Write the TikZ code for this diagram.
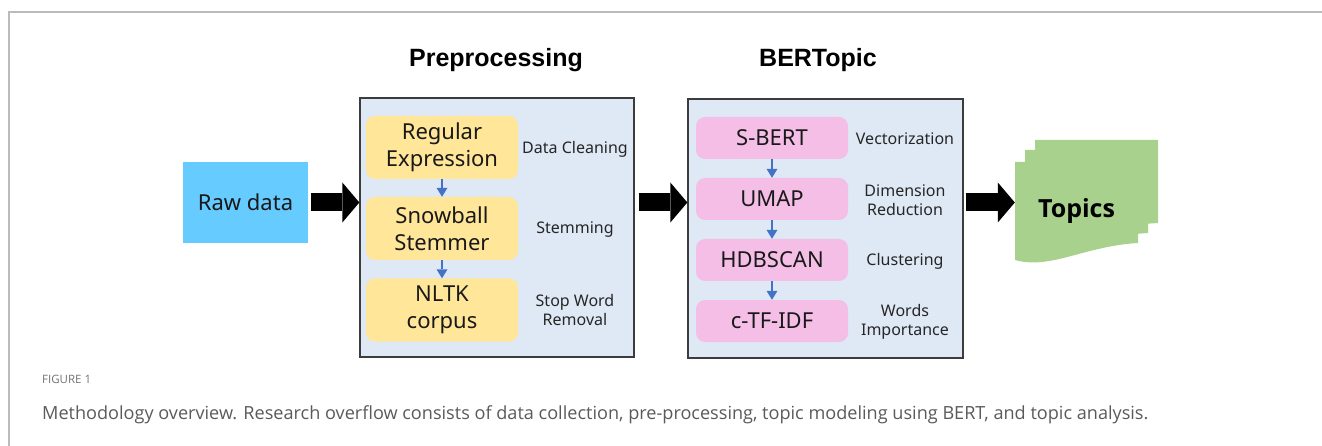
\documentclass[tikz,border=0pt]{standalone}
\usepackage{fontspec}
\setmainfont{Noto Sans}
\newfontfamily\headfont{Liberation Sans}
\newfontfamily\capfont{Open Sans}
\usetikzlibrary{arrows.meta}

\definecolor{rawblue}{RGB}{102,204,255}
\definecolor{panelbg}{RGB}{222,233,245}
\definecolor{panelline}{RGB}{60,60,60}
\definecolor{stepyellow}{RGB}{255,230,153}
\definecolor{steppink}{RGB}{244,190,230}
\definecolor{flowblue}{RGB}{68,114,196}
\definecolor{topicgreen}{RGB}{169,209,142}
\definecolor{framegray}{RGB}{187,187,187}
\definecolor{capgray}{RGB}{90,90,90}

\tikzset{
  boxtext/.style={font=\fontsize{22}{27}\selectfont, text=black!90, align=center, inner sep=0pt},
  panel/.style={draw=panelline, line width=1.3pt, fill=panelbg, minimum width=274pt, minimum height=259pt},
  prestep/.style={boxtext, fill=stepyellow, rounded corners=9pt, minimum width=152pt, minimum height=63pt},
  bertstep/.style={boxtext, fill=steppink, rounded corners=9pt, minimum width=152pt, minimum height=42pt},
  sidelabel/.style={font=\fontsize{16}{19.5}\selectfont, text=black!85, align=center, inner sep=0pt},
  heading/.style={font=\headfont\bfseries\fontsize{25}{30}\selectfont, inner sep=0pt},
  bigarrow/.style={line width=18pt, -{Triangle[length=17pt, width=40pt, line width=0pt]}},
  smallarrow/.style={flowblue, line width=2.5pt, -{Triangle[length=9pt, width=11pt, line width=0pt]}},
}

\begin{document}
\begin{tikzpicture}[x=1pt, y=-1pt]
  \useasboundingbox (0,0) rectangle (1322,446);

  % page frame
  \draw[framegray, line width=1.5pt] (9,446) -- (9,12) -- (1322,12);

  % input
  \node[boxtext, fill=rawblue, minimum width=125pt, minimum height=81pt] (raw) at (245.5,202.5) {Raw data};

  % preprocessing panel
  \node[heading] (prehead) at (496,60) {Preprocessing};
  \node[panel] (pre) at (497,227.5) {};
  \node[prestep] (regex) at (442,147.5) {Regular\\Expression};
  \node[prestep] (snow) at (442,228.5) {Snowball\\Stemmer};
  \node[prestep] (nltk) at (442,310) {NLTK\\corpus};
  \node[sidelabel] (lclean) at (575,149) {Data Cleaning};
  \node[sidelabel] (lstem) at (575,230) {Stemming};
  \node[sidelabel] (lstop) at (575,310) {Stop Word\\Removal};
  \draw[smallarrow] (regex) -- (snow);
  \draw[smallarrow] (snow) -- (nltk);

  % BERTopic panel
  \node[heading] (berthead) at (818,60) {BERTopic};
  \node[panel, minimum width=275pt] (bert) at (825.5,228.5) {};
  \node[bertstep] (sbert) at (772,138) {S-BERT};
  \node[bertstep] (umap) at (772,199) {UMAP};
  \node[bertstep] (hdb) at (772,260) {HDBSCAN};
  \node[bertstep] (ctf) at (772,321) {c-TF-IDF};
  \node[sidelabel] (lvec) at (905,139) {Vectorization};
  \node[sidelabel] (ldim) at (905,200) {Dimension\\Reduction};
  \node[sidelabel] (lclu) at (905,261) {Clustering};
  \node[sidelabel] (lwor) at (905,322) {Words\\Importance};
  \draw[smallarrow] (sbert) -- (umap);
  \draw[smallarrow] (umap) -- (hdb);
  \draw[smallarrow] (hdb) -- (ctf);

  % output: stacked documents
  \fill[topicgreen] (1035,140) -- (1158,140) -- (1158,223) .. controls (1110,226) and (1070,235) .. (1035,240) -- cycle;
  \fill[topicgreen] (1025,150) -- (1148,150) -- (1148,233) .. controls (1100,236) and (1060,250) .. (1025,250) -- cycle;
  \fill[topicgreen] (1015,162) -- (1138,162) -- (1138,243) .. controls (1085,246) and (1050,270) .. (1015,260) -- cycle;
  \node[font=\capfont\bfseries\fontsize{25}{30}\selectfont, minimum width=123pt, minimum height=98pt, inner sep=0pt] (topics) at (1076.5,211) {Topics};

  % main flow, all at the height of the input box
  \draw[bigarrow] ([xshift=3pt]raw.east) -- (raw.east -| pre.west);
  \draw[bigarrow] ([xshift=4pt]pre.east |- raw.east) -- (raw.east -| bert.west);
  \draw[bigarrow] ([xshift=2pt]bert.east |- raw.east) -- (raw.east -| topics.west);

  % caption
  \node[anchor=base west, font=\capfont\fontsize{11.5}{13}\selectfont, text=capgray!85, inner sep=0pt] (figlabel) at (42,383) {FIGURE 1};
  \node[anchor=base west, font=\capfont\fontsize{18.1}{22}\selectfont, text=capgray, inner sep=0pt] (caption) at (42,419) {Methodology overview. Research overflow consists of data collection, pre-processing, topic modeling using BERT, and topic analysis.};
\end{tikzpicture}
\end{document}
